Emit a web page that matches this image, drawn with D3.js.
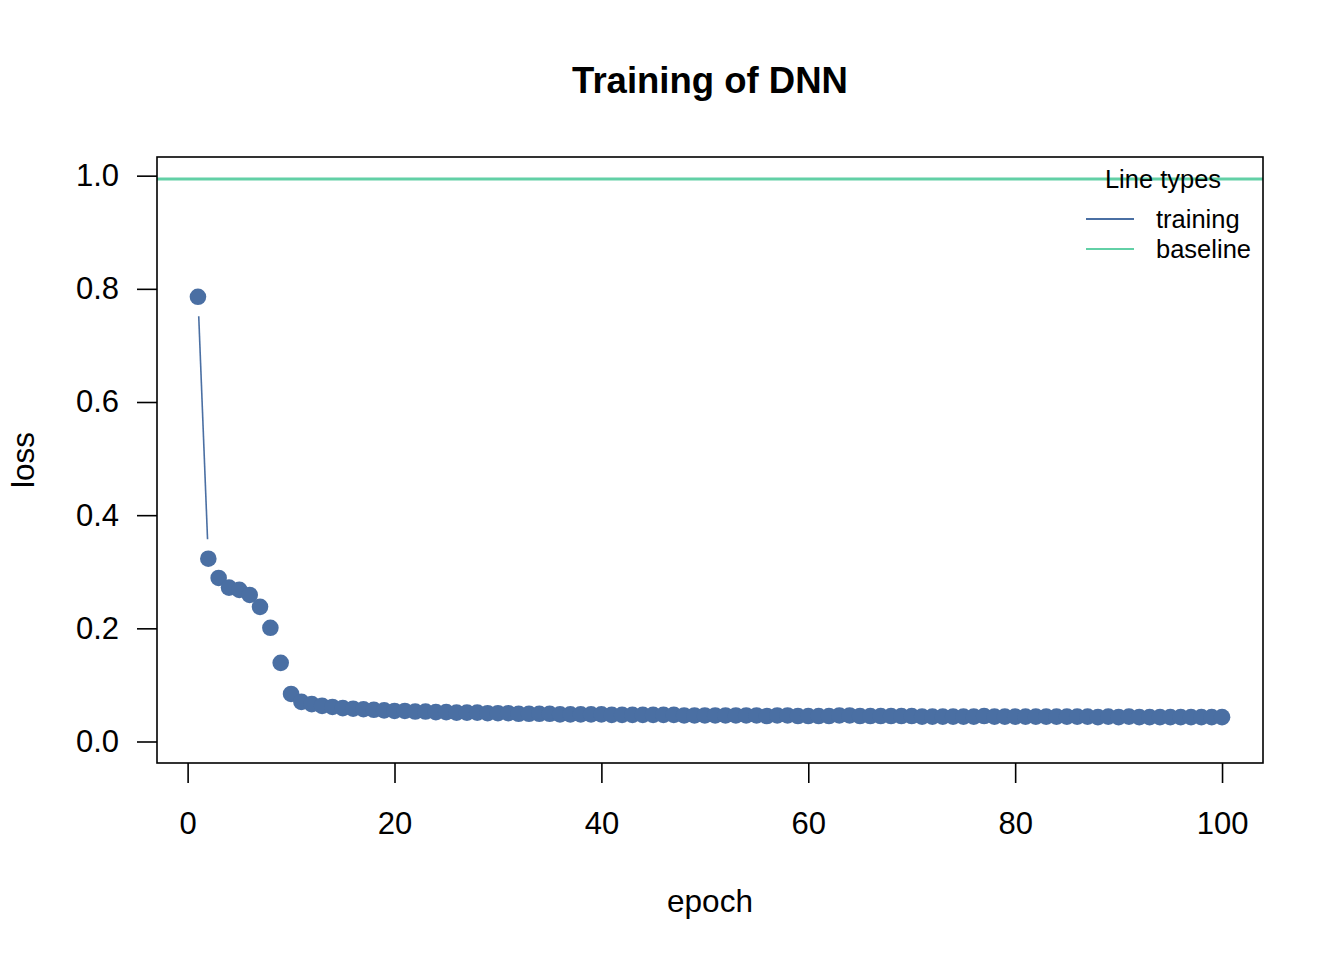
<!DOCTYPE html>
<html>
<head>
<meta charset="utf-8">
<script src="https://cdn.jsdelivr.net/npm/d3@7"></script>
<style>
  body { margin: 0; background: #fff; }
  svg { font-family: "Liberation Sans", Arial, Helvetica, sans-serif; }
</style>
</head>
<body>
<div id="chart"></div>
<script>
// loss per epoch
const lossValues = [
  0.786, 0.323, 0.289, 0.272, 0.268, 0.259, 0.238, 0.201, 0.139, 0.084,
  0.070, 0.066, 0.063, 0.061, 0.059, 0.058, 0.057, 0.056, 0.055, 0.054,
  0.054, 0.053, 0.053, 0.052, 0.052, 0.051, 0.051, 0.051, 0.050, 0.050,
  0.050, 0.049, 0.049, 0.049, 0.049, 0.048, 0.048, 0.048, 0.048, 0.048,
  0.047, 0.047, 0.047, 0.047, 0.047, 0.047, 0.047, 0.046, 0.046, 0.046,
  0.046, 0.046, 0.046, 0.046, 0.046, 0.045, 0.046, 0.046, 0.045, 0.045,
  0.045, 0.045, 0.046, 0.046, 0.045, 0.045, 0.045, 0.045, 0.045, 0.045,
  0.044, 0.044, 0.044, 0.044, 0.044, 0.044, 0.045, 0.044, 0.044, 0.044,
  0.044, 0.044, 0.044, 0.044, 0.044, 0.044, 0.044, 0.043, 0.044, 0.043,
  0.044, 0.043, 0.043, 0.043, 0.043, 0.043, 0.043, 0.043, 0.043, 0.043
];
const epochs = lossValues.map((d, i) => i + 1);
const baselineLoss = 0.994;
const xTicks = [0, 20, 40, 60, 80, 100];
const yTicks = [0, 0.2, 0.4, 0.6, 0.8, 1.0];
const legendLabels = ["training", "baseline"];

const width = 1344, height = 960;
const box = { left: 157, right: 1263, top: 157, bottom: 763 };
const trainColor = "#4a6fa3";
const baseColor = "#62d0a6";
const pointR = 8.3;
const gap = 19.5; // type="b" gap around points

const svg = d3.select("#chart").append("svg")
  .attr("width", width)
  .attr("height", height);

// R style 4% expansion of the data range
const x = d3.scaleLinear().domain([1 - 0.04 * 99, 100 + 0.04 * 99]).range([box.left, box.right]);
const y = d3.scaleLinear().domain([-0.038, 1.033]).range([box.bottom, box.top]);

// baseline
svg.append("line")
  .attr("x1", box.left).attr("x2", box.right)
  .attr("y1", y(baselineLoss)).attr("y2", y(baselineLoss))
  .attr("stroke", baseColor)
  .attr("stroke-width", 3);

// segments between points, shortened at both ends like type="b"
const pts = epochs.map((e, i) => [x(e), y(lossValues[i])]);
const segs = d3.pairs(pts).filter(([a, b]) => Math.hypot(b[0] - a[0], b[1] - a[1]) > 2 * gap);
svg.append("g").selectAll("line")
  .data(segs)
  .join("line")
  .attr("x1", ([a, b]) => a[0] + (b[0] - a[0]) * gap / Math.hypot(b[0] - a[0], b[1] - a[1]))
  .attr("y1", ([a, b]) => a[1] + (b[1] - a[1]) * gap / Math.hypot(b[0] - a[0], b[1] - a[1]))
  .attr("x2", ([a, b]) => b[0] - (b[0] - a[0]) * gap / Math.hypot(b[0] - a[0], b[1] - a[1]))
  .attr("y2", ([a, b]) => b[1] - (b[1] - a[1]) * gap / Math.hypot(b[0] - a[0], b[1] - a[1]))
  .attr("stroke", trainColor)
  .attr("stroke-width", 1.6);

svg.append("g").selectAll("circle")
  .data(epochs)
  .join("circle")
  .attr("cx", d => x(d))
  .attr("cy", (d, i) => y(lossValues[i]))
  .attr("r", pointR)
  .attr("fill", trainColor);

// plot box
svg.append("rect")
  .attr("x", box.left).attr("y", box.top)
  .attr("width", box.right - box.left).attr("height", box.bottom - box.top)
  .attr("fill", "none")
  .attr("stroke", "#000")
  .attr("stroke-width", 1.6);

// axes
const xAxis = svg.append("g")
  .attr("transform", `translate(0,${box.bottom})`)
  .call(d3.axisBottom(x).tickValues(xTicks).tickSize(20).tickPadding(29).tickSizeOuter(0));
const yAxis = svg.append("g")
  .attr("transform", `translate(${box.left},0)`)
  .call(d3.axisLeft(y).tickValues(yTicks).tickFormat(d3.format(".1f")).tickSize(20).tickPadding(18).tickSizeOuter(0));

[xAxis, yAxis].forEach(g => {
  g.select(".domain").remove();
  g.selectAll(".tick line").attr("stroke", "#000").attr("stroke-width", 1.6);
  g.selectAll(".tick text").attr("font-size", 31).attr("fill", "#000").attr("font-family", null);
});
xAxis.selectAll(".tick text").attr("dy", "0.71em");

// titles
svg.append("text")
  .attr("x", (box.left + box.right) / 2).attr("y", 93)
  .attr("text-anchor", "middle")
  .attr("font-size", 36.5).attr("font-weight", "bold")
  .text("Training of DNN");

svg.append("text")
  .attr("x", (box.left + box.right) / 2).attr("y", 912)
  .attr("text-anchor", "middle")
  .attr("font-size", 31.5)
  .text("epoch");

svg.append("text")
  .attr("transform", `translate(34,${(box.top + box.bottom) / 2}) rotate(-90)`)
  .attr("text-anchor", "middle")
  .attr("font-size", 31.5)
  .text("loss");

// legend
const legend = svg.append("g").attr("transform", "translate(1086,0)");
legend.append("text")
  .attr("x", 77).attr("y", 188)
  .attr("text-anchor", "middle")
  .attr("font-size", 25.5)
  .text("Line types");

const item = legend.selectAll("g.item")
  .data(legendLabels)
  .join("g")
  .attr("class", "item")
  .attr("transform", (d, i) => `translate(0,${219 + i * 30})`);
item.append("line")
  .attr("x1", 0).attr("x2", 48)
  .attr("stroke", (d, i) => i === 0 ? trainColor : baseColor)
  .attr("stroke-width", 2);
item.append("text")
  .attr("x", 70).attr("y", 9)
  .attr("font-size", 25.5)
  .text(d => d);
</script>
</body>
</html>
